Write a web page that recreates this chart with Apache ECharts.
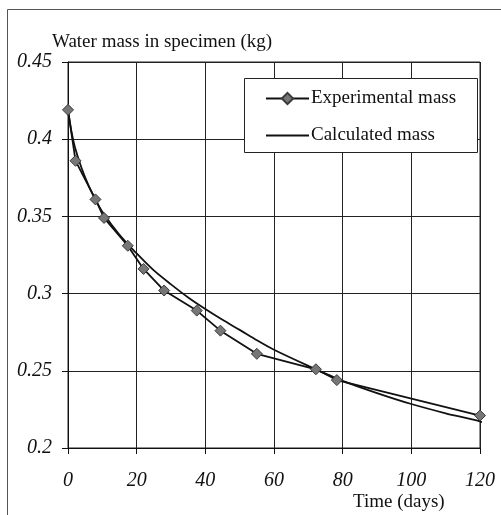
<!DOCTYPE html>
<html>
<head>
<meta charset="utf-8">
<script src="https://cdn.jsdelivr.net/npm/echarts@6/dist/echarts.min.js"></script>
<style>html,body{margin:0;padding:0;background:#fff;}#c{width:501px;height:515px;}</style>
</head>
<body>
<div id="c"></div>
<script>
// Experimental measurements
var expDays = [0, 2.2, 8, 10.5, 17.4, 22, 28, 37.5, 44.4, 55, 72.2, 78.3, 120];
var expMass = [0.419, 0.386, 0.361, 0.349, 0.331, 0.316, 0.302, 0.289, 0.276, 0.261, 0.251, 0.244, 0.221];
// Calculated curve
var calcDays = [0, 1, 2, 4, 6, 8, 10, 15, 20, 25, 30, 35, 40, 45, 50, 55, 60, 70, 80, 90, 100, 110, 120, 123];
var calcMass = [0.419, 0.405, 0.395, 0.381, 0.370, 0.361, 0.353, 0.338, 0.326, 0.315, 0.306, 0.2975, 0.290, 0.283, 0.2765, 0.2698, 0.2636, 0.2532, 0.2435, 0.2356, 0.2285, 0.2225, 0.2172, 0.2145];
// Axis ticks
var xTicks = [0, 20, 40, 60, 80, 100, 120];
var yTicks = [0.2, 0.25, 0.3, 0.35, 0.4, 0.45];
var seriesNames = ['Experimental mass', 'Calculated mass'];
var yTitle = 'Water mass in specimen (kg)';
var xTitle = 'Time (days)';

function pairs(xs, ys) { return xs.map(function (x, i) { return [x, ys[i]]; }); }

var serif = "'Liberation Serif', 'Times New Roman', 'DejaVu Serif', serif";
var chart = echarts.init(document.getElementById('c'), null, { renderer: 'canvas' });
chart.setOption({
  animation: false,
  backgroundColor: '#fff',
  textStyle: { fontFamily: serif },
  grid: { left: 68, right: 21, top: 62, bottom: 67, show: true, borderColor: '#222', borderWidth: 1 },
  xAxis: {
    type: 'value', min: xTicks[0], max: xTicks[xTicks.length - 1], interval: 20,
    axisLine: { lineStyle: { color: '#111', width: 1 } },
    axisTick: { show: true, length: 6, lineStyle: { color: '#111' } },
    splitLine: { show: true, lineStyle: { color: '#222', width: 1 } },
    axisLabel: { margin: 23, color: '#111', fontFamily: serif, fontStyle: 'italic', fontSize: 20 }
  },
  yAxis: {
    type: 'value', min: yTicks[0], max: yTicks[yTicks.length - 1], interval: 0.05,
    axisLine: { show: true, lineStyle: { color: '#111', width: 1 } },
    axisTick: { show: true, length: 6, lineStyle: { color: '#111' } },
    splitLine: { show: true, lineStyle: { color: '#222', width: 1 } },
    axisLabel: { margin: 16, color: '#111', fontFamily: serif, fontStyle: 'italic', fontSize: 20,
      formatter: function (v) { return String(+v.toFixed(2)); } }
  },
  legend: {
    orient: 'vertical', left: 244, top: 78, padding: [11, 20, 9, 21], itemGap: 18,
    itemWidth: 43, itemHeight: 14, z: 20,
    textStyle: { fontFamily: serif, fontSize: 19, color: '#111', padding: [0, 0, 0, -3] },
    data: [
      { name: seriesNames[0] },
      { name: seriesNames[1], itemStyle: { opacity: 0 } }
    ]
  },
  graphic: [
    { type: 'rect', left: 5, top: 7, shape: { width: 520, height: 520 }, style: { fill: 'none', stroke: '#555', lineWidth: 1 }, silent: true, z: -1 },
    { type: 'rect', shape: { x: 244.5, y: 78.5, width: 233, height: 74 }, style: { fill: '#fff', stroke: '#222', lineWidth: 1 }, silent: true, z: 4 },
    { type: 'text', left: 52, top: 33, style: { text: yTitle, font: "19px 'Liberation Serif', serif", fill: '#111' } },
    { type: 'text', left: 353, top: 493, style: { text: xTitle, font: "19px 'Liberation Serif', serif", fill: '#111' } }
  ],
  series: [
    {
      name: seriesNames[0], type: 'line', data: pairs(expDays, expMass),
      symbol: 'diamond', symbolSize: 11, showAllSymbol: true, clip: false,
      lineStyle: { color: '#111', width: 1.8 },
      itemStyle: { color: '#767676', borderColor: '#3a3a3a', borderWidth: 1 },
      z: 3
    },
    {
      name: seriesNames[1], type: 'line', data: pairs(calcDays, calcMass),
      symbol: 'none', smooth: 0.3, clip: false,
      lineStyle: { color: '#111', width: 1.8 },
      itemStyle: { color: '#111' },
      z: 2
    }
  ]
});
</script>
</body>
</html>
